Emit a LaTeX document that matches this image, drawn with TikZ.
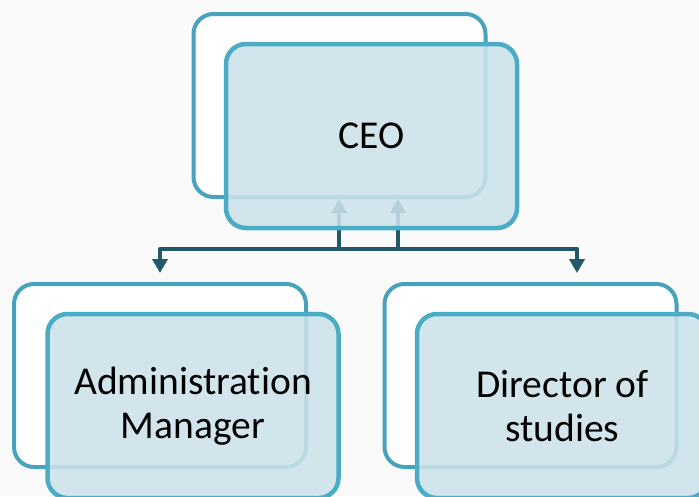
\documentclass[tikz,border=0pt]{standalone}
\usepackage{fontspec}
\setmainfont{Carlito}[Ligatures={NoCommon,NoRare,NoContextual}]
\usetikzlibrary{arrows.meta}
\definecolor{bgc}{RGB}{250,250,250}
\definecolor{backline}{RGB}{72,162,187}
\definecolor{frontline}{RGB}{75,172,198}
\definecolor{frontfill}{RGB}{205,226,234}
\definecolor{connc}{RGB}{33,89,104}
\tikzset{
  backbox/.style={draw=backline, line width=4pt, fill=white, rounded corners=20pt,
    minimum width=292pt, minimum height=183pt, inner sep=0pt},
  frontbox/.style={draw=frontline, line width=4.5pt, fill=frontfill, fill opacity=0.87,
    text opacity=1, rounded corners=20pt, minimum width=291pt, minimum height=184pt,
    inner sep=0pt, align=center, font=\fontsize{39.5}{43.5}\selectfont},
  conn/.style={draw=connc, line width=4.5pt, line join=round,
    {Triangle[length=14pt,width=15pt]}-{Triangle[length=14pt,width=15pt]}}
}
\begin{document}
\begin{tikzpicture}[x=1pt,y=-1pt]
\useasboundingbox (0,0) rectangle (699,496);
\clip (0,0) rectangle (699,496);
\fill[bgc] (0,0) rectangle (699,496);
% back boxes
\node[backbox] (ceoB) at (339.5,105.5) {};
\node[backbox] (admB) at (160,375.5) {};
\node[backbox] (dirB) at (530.5,375.5) {};
% connector ends
\coordinate (ceoL) at (339,199);
\coordinate (ceoR) at (398,199);
\coordinate (bus) at (0,249);
\coordinate (admT) at (160,273);
\coordinate (dirT) at (577,273);
\draw[conn] (ceoL) -- (ceoL |- bus) -| (dirT);
\draw[conn] (ceoR) -- (ceoR |- bus) -| (admT);
% front boxes
\node[frontbox] (ceo) at (371.5,136) {CEO};
\node[frontbox] (adm) at (193,406) {Administration\\Manager};
\node[frontbox] (dir) at (562.5,406) {Director of\\studies};
\end{tikzpicture}
\end{document}
